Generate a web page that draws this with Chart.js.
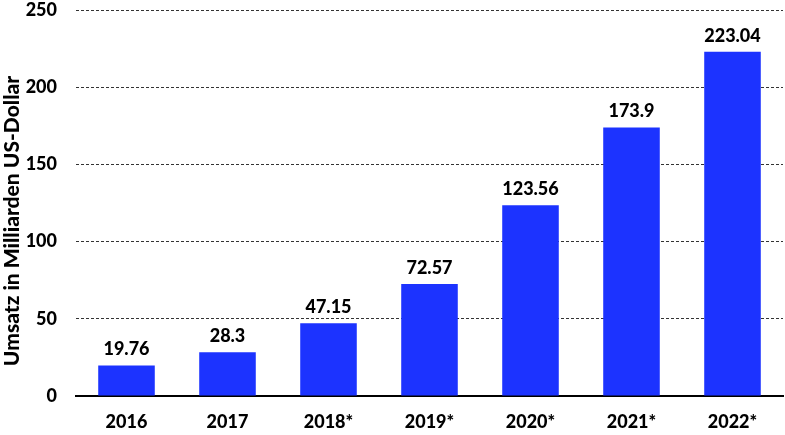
<!DOCTYPE html>
<html><head><meta charset="utf-8">
<script src="https://cdn.jsdelivr.net/npm/chart.js@4"></script>
<style>html,body{margin:0;padding:0;background:#fff;}#wrap{width:785px;height:435px;}</style>
</head><body><div id="wrap"><canvas id="c" width="785" height="435"></canvas></div>
<script>
const categories = ["2016","2017","2018*","2019*","2020*","2021*","2022*"];
const values = [19.76, 28.3, 47.15, 72.57, 123.56, 173.9, 223.04];
const valueLabels = ["19.76","28.3","47.15","72.57","123.56","173.9","223.04"];
const yTitle = "Umsatz in Milliarden US-Dollar";
const FONT = "Lato, 'Open Sans', sans-serif";
const W = 900;

const labelPlugin = {
  id: 'valLabels',
  afterDatasetsDraw(chart) {
    const ctx = chart.ctx;
    const meta = chart.getDatasetMeta(0);
    ctx.save();
    ctx.font = W + " 18px " + FONT;
    ctx.fillStyle = "#000";
    ctx.textAlign = "center";
    ctx.textBaseline = "alphabetic";
    meta.data.forEach((bar, i) => {
      ctx.fillText(valueLabels[i], bar.x, bar.y - 10);
    });
    ctx.font = W + " 21px " + FONT;
    ctx.textBaseline = "middle";
    ctx.translate(12, 221);
    ctx.rotate(-Math.PI / 2);
    ctx.fillText(yTitle, 0, 0);
    ctx.restore();
  }
};

new Chart(document.getElementById('c'), {
  type: 'bar',
  data: { labels: categories, datasets: [{ data: values, backgroundColor: '#1c33ff', categoryPercentage: 1, barPercentage: 0.56 }] },
  options: {
    responsive: false, animation: false,
    layout: { padding: { top: 2, right: 2, left: 0, bottom: 0 } },
    plugins: { legend: { display: false }, tooltip: { enabled: false } },
    scales: {
      x: {
        afterFit(s) { s.height = 39; s.paddingLeft = 0; s.paddingRight = 0; },
        grid: { display: false, drawTicks: false },
        border: { display: true, color: '#000', width: 2 },
        ticks: { color: '#000', font: { family: FONT, size: 18, weight: W }, padding: 15 }
      },
      y: {
        min: 0, max: 250,
        afterFit(s) { s.width = 76; s.paddingTop = 10; s.paddingBottom = 0; },
        ticks: { stepSize: 50, color: '#000', font: { family: FONT, size: 18, weight: W }, padding: 19 },
        grid: { color: '#333', lineWidth: 1, drawTicks: false },
        border: { display: false, dash: [3, 2] },
        title: { display: false }
      }
    }
  },
  plugins: [labelPlugin]
});
</script></body></html>
